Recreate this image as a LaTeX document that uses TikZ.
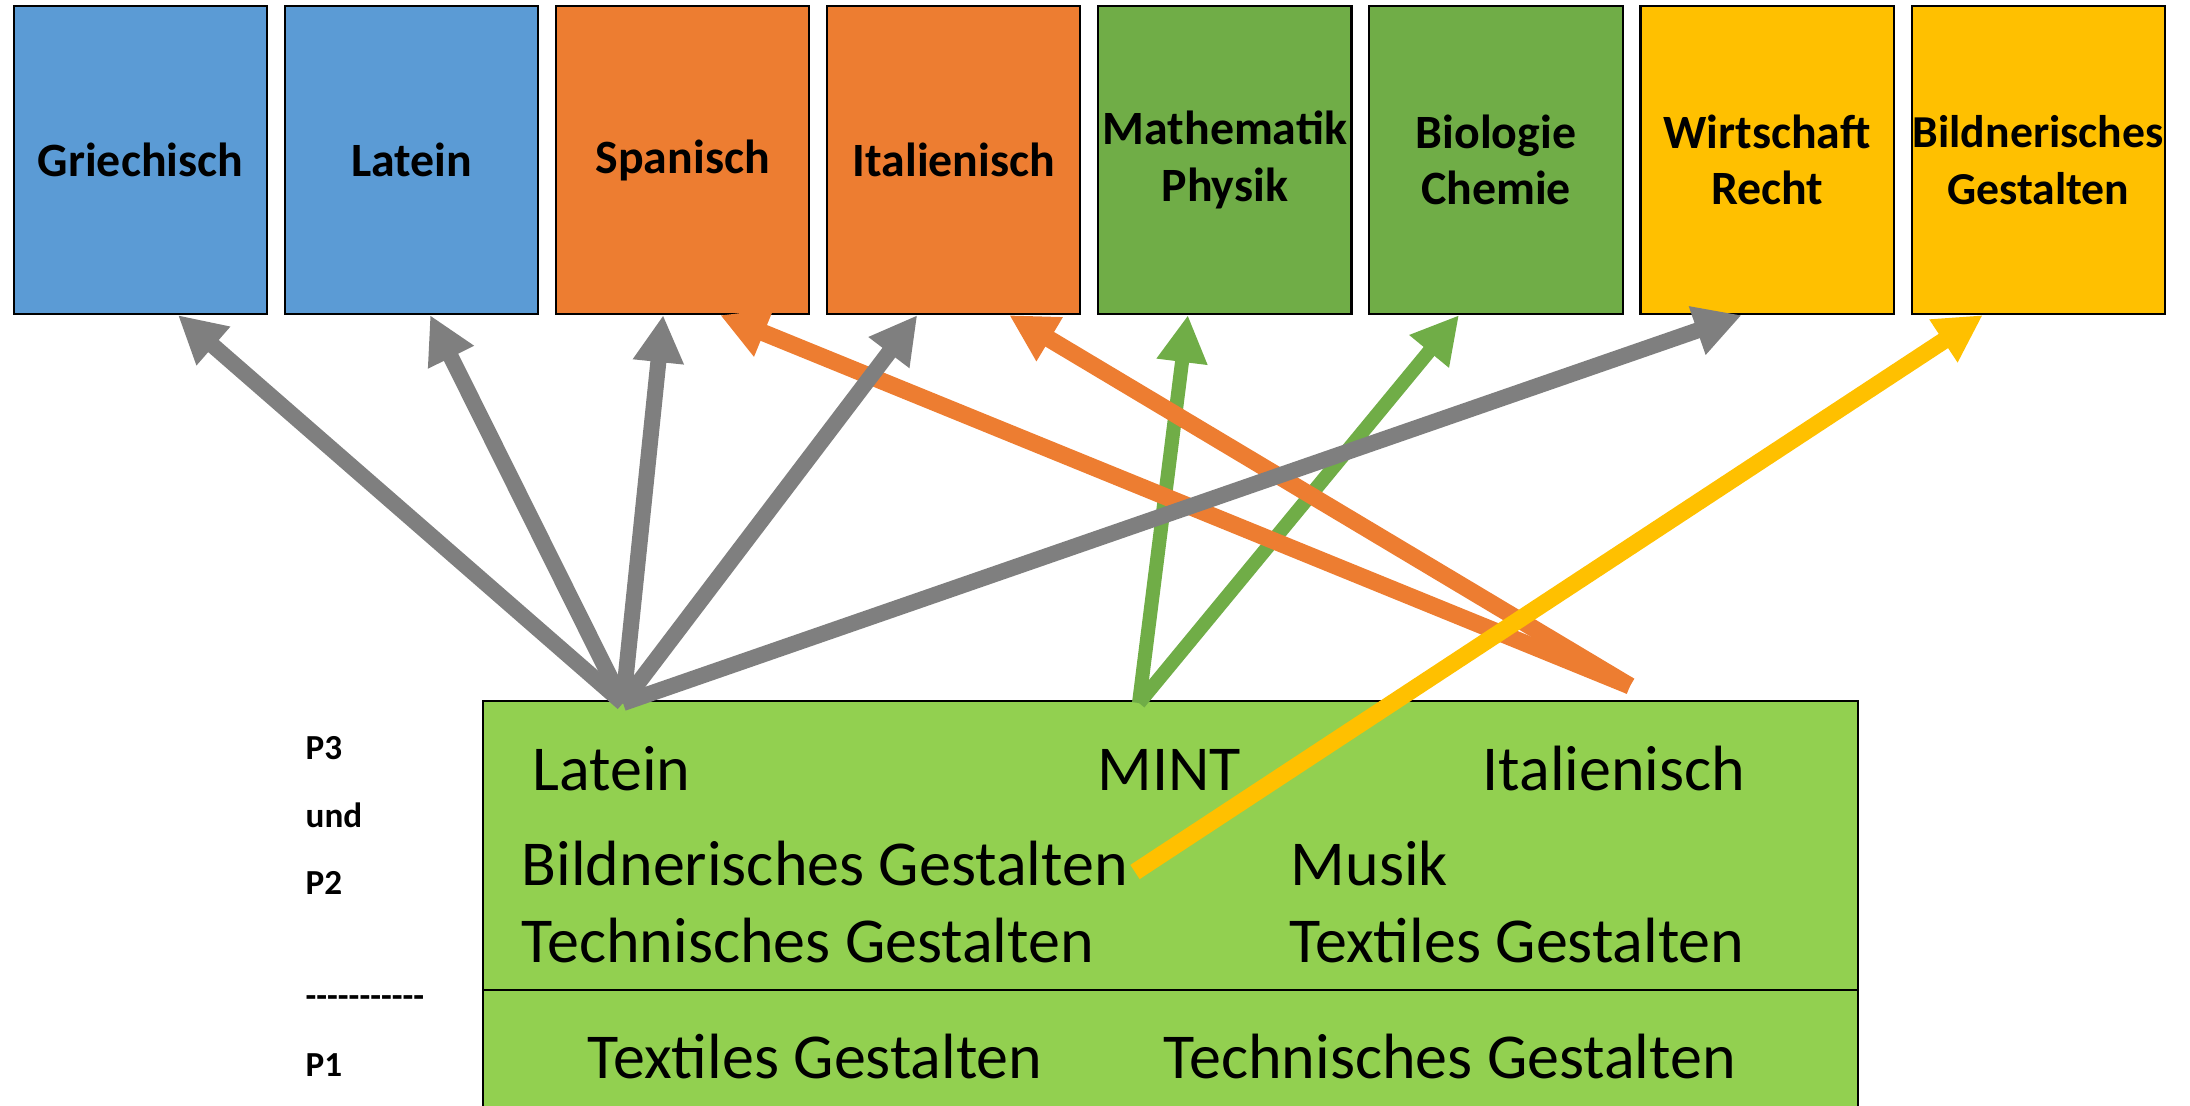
\documentclass[tikz,border=0pt]{standalone}
\usepackage{fontspec}
\setmainfont{Carlito}
\usetikzlibrary{calc,arrows.meta}
\definecolor{fachblau}{HTML}{5B9BD5}
\definecolor{fachorange}{HTML}{ED7D31}
\definecolor{fachgruen}{HTML}{70AD47}
\definecolor{fachgelb}{HTML}{FFC000}
\definecolor{profilgruen}{HTML}{92D050}
\definecolor{pfeilgrau}{HTML}{7F7F7F}
\newcommand\strichel{-\kern0pt}
\tikzset{
	fach/.style={draw=black, line width=0.6pt, minimum width=2.53cm, minimum height=3.08cm, inner sep=0pt, align=center, font=\fontsize{13.6pt}{16pt}\selectfont\bfseries},
	wahl/.style={inner sep=0pt, anchor=base west, font=\fontsize{18.2pt}{21pt}\selectfont},
	stufe/.style={inner sep=0pt, anchor=base west, font=\fontsize{10pt}{12pt}\selectfont\bfseries},
	pfeil/.style={line width=#1, -{Triangle[length=0.47cm,width=0.48cm]}}
}

\begin{document}
\begin{tikzpicture}[x=0.01cm, y=-0.01cm]
				%%%%% START %%%%%
				\useasboundingbox (0, 0) rectangle (2190, 1105);
				
				\node[fach, fill=fachblau] (gr) at (140.5, 160) {Griechisch};
				\node[fach, fill=fachblau] (la) at (411.6, 160) {Latein};
				\node[fach, fill=fachorange] (sp) at (682.7, 160) {Spanisch};
				\node[fach, fill=fachorange] (it) at (953.8, 160) {Italienisch};
				\node[fach, fill=fachgruen] (ma) at (1224.9, 160) {Mathematik\\Physik};
				\node[fach, fill=fachgruen] (bi) at (1496, 160) {Biologie\\Chemie};
				\node[fach, fill=fachgelb] (wr) at (1767.1, 160) {Wirtschaft\\Recht};
				\node[fach, fill=fachgelb, font=\fontsize{13pt}{16pt}\selectfont\bfseries] (bg) at (2038.2, 160) {Bildnerisches\\Gestalten};
				
				\draw[fill=profilgruen, line width=0.6pt] (483, 701) rectangle (1858, 1120);
				\draw[line width=0.8pt] (483, 990) -- (1858, 990);
				
				\node[wahl] (p3la) at (532, 790) {Latein};
				\node[wahl] (p3mint) at (1097, 790) {MINT};
				\node[wahl] (p3it) at (1482, 790) {Italienisch};
				\node[wahl] (p2bg) at (521, 885) {Bildnerisches Gestalten};
				\node[wahl] (p2mu) at (1290, 885) {Musik};
				\node[wahl] (p2tg) at (521, 962) {Technisches Gestalten};
				\node[wahl] (p2tx) at (1289, 962) {Textiles Gestalten};
				\node[wahl] (p1tx) at (587, 1078) {Textiles Gestalten};
				\node[wahl] (p1tg) at (1163, 1078) {Technisches Gestalten};
				
				\node[stufe] (p3) at (305, 759) {P3};
				\node[stufe] (und) at (305, 827) {und};
				\node[stufe] (p2) at (305, 894) {P2};
				\node[stufe] (trenn) at (305, 1007) {\strichel\strichel\strichel\strichel\strichel\strichel\strichel\strichel\strichel\strichel\strichel};
				\node[stufe] (p1) at (305, 1076) {P1};
				
				\coordinate (lasrc) at (623, 703);
				\coordinate (mintsrc) at (1139, 703);
				\coordinate (itsrc) at (1630, 686);
				\coordinate (bgsrc) at (1135, 872);
				
				\draw[pfeil=0.14cm, fachgruen] (mintsrc) -- ($(ma.south)+(-37, 0)$);
				\draw[pfeil=0.14cm, fachgruen] (mintsrc) -- ($(bi.south)+(-37, 0)$);
				
				\draw[pfeil=0.17cm, fachorange] (itsrc) -- ($(sp.south)+(37.5, 0)$);
				\draw[pfeil=0.17cm, fachorange] (itsrc) -- ($(it.south)+(55.5, 0)$);
				
				\draw[pfeil=0.16cm, pfeilgrau] (lasrc) -- ($(gr.south)+(37.5, 0)$);
				\draw[pfeil=0.16cm, pfeilgrau] (lasrc) -- ($(la.south)+(18.5, 0)$);
				\draw[pfeil=0.16cm, pfeilgrau] (lasrc) -- ($(sp.south)+(-19.5, 0)$);
				\draw[pfeil=0.16cm, pfeilgrau] (lasrc) -- ($(it.south)+(-36.5, 0)$);
				\draw[pfeil=0.16cm, pfeilgrau] (lasrc) -- ($(wr.south)+(-25.5, 0)$);
				
				\draw[pfeil=0.17cm, fachgelb] (bgsrc) -- ($(bg.south)+(-55.5, 0)$);
				%%%%% END %%%%%
\end{tikzpicture}
\end{document}
